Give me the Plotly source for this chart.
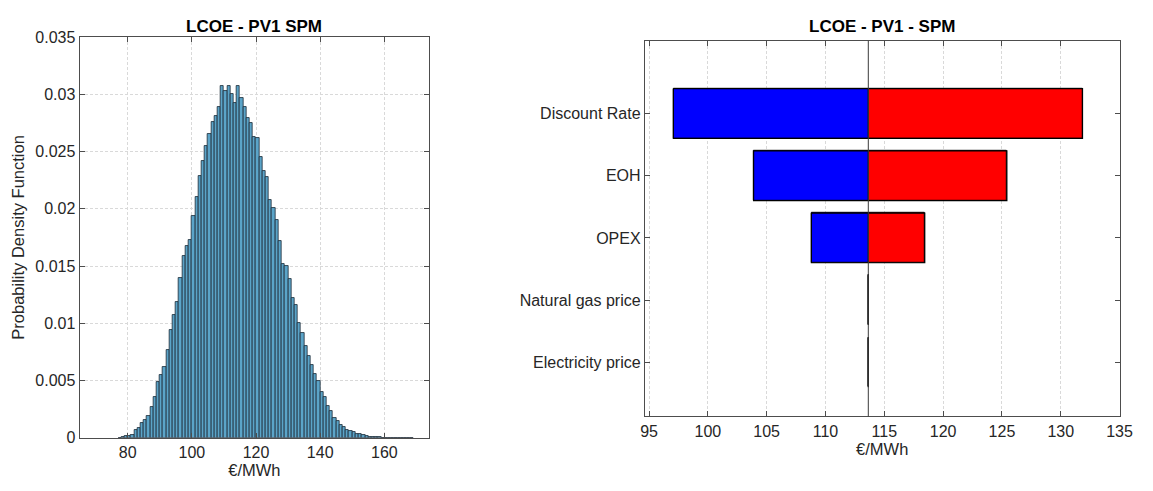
import plotly.graph_objects as go

# ---- Monte Carlo histogram of LCOE (bin width 1 EUR/MWh) ----
bin_left = list(range(77, 169))
pdf_values = [
    0.00003, 0.00008, 0.00014, 0.00017, 0.00022, 0.00073, 0.00087, 0.00129, 0.00157, 0.00194,
    0.00270, 0.00354, 0.00486, 0.00550, 0.00618, 0.00767, 0.00944, 0.01070, 0.01183, 0.01400,
    0.01589, 0.01679, 0.01730, 0.01934, 0.02100, 0.02283, 0.02420, 0.02550, 0.02650, 0.02760,
    0.02810, 0.02890, 0.03070, 0.03030, 0.03070, 0.03000, 0.02920, 0.03070, 0.02965, 0.02890,
    0.02790, 0.02750, 0.02630, 0.02620, 0.02450, 0.02330, 0.02280, 0.02075, 0.02010, 0.01900,
    0.01720, 0.01520, 0.01505, 0.01390, 0.01220, 0.01160, 0.01005, 0.00915, 0.00800, 0.00719,
    0.00640, 0.00556, 0.00494, 0.00398, 0.00354, 0.00280, 0.00233, 0.00177, 0.00152, 0.00110,
    0.00096, 0.00073, 0.00056, 0.00051, 0.00037, 0.00031, 0.00022, 0.00017, 0.00011, 0.00008,
    0.00006, 0.00004, 0.00003, 0.000025, 0.00002, 0.00001, 0.00001, 0.000005, 0.000003, 0.000003,
    0.000002, 0.000002,
]
bin_centers = [b + 0.5 for b in bin_left]

hist_xticks = [80, 100, 120, 140, 160]
hist_yticks = [0, 0.005, 0.01, 0.015, 0.02, 0.025, 0.03, 0.035]
hist_ytick_text = ["0", "0.005", "0.01", "0.015", "0.02", "0.025", "0.03", "0.035"]

# ---- Tornado (sensitivity) chart ----
parameters = ["Discount Rate", "EOH", "OPEX", "Natural gas price", "Electricity price"]
lcoe_low = [97.07, 103.89, 108.8, 113.64, 113.64]
lcoe_high = [131.85, 125.42, 118.44, 113.64, 113.64]
lcoe_base = 113.64
tornado_xticks = [95, 100, 105, 110, 115, 120, 125, 130, 135]

FONT = "Liberation Sans, Arial, sans-serif"
AXIS_COLOR = "#4d4d4d"
GRID_COLOR = "#d9d9d9"
TEXT_COLOR = "#262626"
BAR_HALF = 0.4

fig = go.Figure()

fig.add_trace(go.Bar(
    x=bin_centers, y=pdf_values, width=1.0,
    marker=dict(color="#5ba4c8", line=dict(color="#1c2a36", width=0.8)),
    xaxis="x", yaxis="y", showlegend=False,
))

pos = list(range(1, len(parameters) + 1))
fig.add_trace(go.Bar(
    y=pos, x=[lo - lcoe_base for lo in lcoe_low], base=lcoe_base,
    orientation="h", width=0.8,
    marker=dict(color="#0000ff", line=dict(color="black", width=1)),
    xaxis="x2", yaxis="y2", showlegend=False,
))
fig.add_trace(go.Bar(
    y=pos, x=[hi - lcoe_base for hi in lcoe_high], base=lcoe_base,
    orientation="h", width=0.8,
    marker=dict(color="#ff0000", line=dict(color="black", width=1)),
    xaxis="x2", yaxis="y2", showlegend=False,
))

# bar outlines, so parameters with no sensitivity still show as a thin edge
ox, oy = [], []
for p, lo, hi in zip(pos, lcoe_low, lcoe_high):
    ox += [lo, hi, hi, lo, lo, None]
    oy += [p - BAR_HALF, p - BAR_HALF, p + BAR_HALF, p + BAR_HALF, p - BAR_HALF, None]
fig.add_trace(go.Scatter(
    x=ox, y=oy, mode="lines", line=dict(color="black", width=1.2),
    xaxis="x2", yaxis="y2", showlegend=False, hoverinfo="skip",
))

# base-case reference line
fig.add_shape(type="line", xref="x2", yref="y2 domain",
              x0=lcoe_base, x1=lcoe_base, y0=0, y1=1,
              line=dict(color="#3a3a3a", width=1), layer="above")

common_axis = dict(
    showline=True, linecolor=AXIS_COLOR, linewidth=1, mirror="ticks",
    ticks="inside", ticklen=5, tickcolor=AXIS_COLOR,
    tickfont=dict(family=FONT, size=16, color=TEXT_COLOR),
    zeroline=False,
)
title_font = dict(family=FONT, size=16.5, color=TEXT_COLOR)

fig.update_layout(
    width=1153, height=491,
    margin=dict(l=0, r=0, t=0, b=0),
    paper_bgcolor="white", plot_bgcolor="white",
    bargap=0, barmode="overlay",
    font=dict(family=FONT, color=TEXT_COLOR),
    xaxis=dict(
        domain=[0.0657, 0.3738], anchor="y", range=[65, 174],
        tickvals=hist_xticks, showgrid=True, gridcolor=GRID_COLOR, griddash="3px,2px",
        title=dict(text="€/MWh", font=title_font, standoff=4),
        **common_axis,
    ),
    yaxis=dict(
        domain=[0.0931, 0.9389], anchor="x", range=[0, 0.035],
        tickvals=hist_yticks, ticktext=hist_ytick_text,
        showgrid=True, gridcolor=GRID_COLOR, griddash="3px,2px",
        title=dict(text="Probability Density Function", font=title_font, standoff=6),
        **common_axis,
    ),
    xaxis2=dict(
        domain=[0.5637, 0.9820], anchor="y2", range=[94.64, 135],
        tickvals=tornado_xticks, showgrid=True, gridcolor=GRID_COLOR, griddash="3px,2px",
        title=dict(text="€/MWh", font=title_font, standoff=4),
        **common_axis,
    ),
    yaxis2=dict(
        domain=[0.1385, 0.9308], anchor="x2", range=[5.87, -0.17],
        tickvals=pos, ticktext=parameters, showgrid=False,
        **common_axis,
    ),
    annotations=[
        dict(text="<b>LCOE - PV1 SPM</b>", xref="paper", yref="paper",
             x=(0.0657 + 0.3738) / 2, y=1 - 19.5 / 491, xanchor="center", yanchor="middle",
             showarrow=False, font=dict(family=FONT, size=17, color="black")),
        dict(text="<b>LCOE - PV1 - SPM</b>", xref="paper", yref="paper",
             x=(0.5637 + 0.9820) / 2, y=1 - 19.5 / 491, xanchor="center", yanchor="middle",
             showarrow=False, font=dict(family=FONT, size=17, color="black")),
    ],
)

fig.write_html("out.html")
